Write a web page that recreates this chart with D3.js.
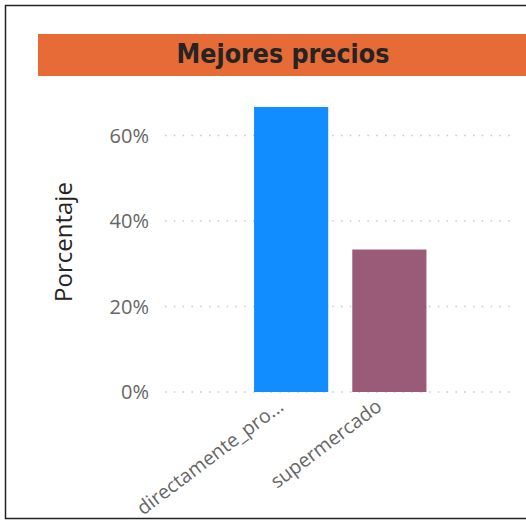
<!DOCTYPE html>
<html><head><meta charset="utf-8">
<script src="https://cdn.jsdelivr.net/npm/d3@7"></script>
<style>html,body{margin:0;padding:0;background:#fff;overflow:hidden}</style>
</head><body>
<svg id="c" width="526" height="521"></svg>
<script>
const categories = ["directamente_productor", "supermercado"];
const categoryLabels = ["directamente_pro...", "supermercado"];
const values = [0.6667, 0.3333];
const colors = ["#118DFF", "#995B78"];
const yTicks = [0, 0.2, 0.4, 0.6];
const title = "Mejores precios";
const yTitle = "Porcentaje";

const svg = d3.select("#c");
// frame
svg.append("rect").attr("x",5.5).attr("y",5.5).attr("width",530).attr("height",513)
  .attr("fill","none").attr("stroke","#222").attr("stroke-width",1.5);
// title banner
svg.append("rect").attr("x",38).attr("y",34).attr("width",500).attr("height",42).attr("fill","#E66B37");
svg.append("text").attr("x",283).attr("y",63).attr("text-anchor","middle")
  .attr("font-family","'DejaVu Sans Condensed','DejaVu Sans',sans-serif").attr("font-stretch","condensed")
  .attr("font-weight","bold").attr("font-size",26.5).attr("fill","#252423").text(title);

const y = d3.scaleLinear().domain([0, 0.2]).range([392, 306.5]);
const x = d3.scaleBand().domain(categories).range([230, 450.5]).paddingInner(0.245).paddingOuter(0.245);

// grid
const gy = svg.append("g");
gy.selectAll("line").data(yTicks).join("line")
  .attr("x1",165).attr("x2",516).attr("y1",d=>y(d)).attr("y2",d=>y(d))
  .attr("stroke","#c8c8c8").attr("stroke-width",1.5).attr("stroke-dasharray","1.5,7.3");
// y tick labels
const yAxis = d3.axisLeft(y).tickValues(yTicks).tickFormat(d3.format(".0%")).tickSize(0).tickPadding(0);
const ya = svg.append("g").attr("transform","translate(149,0)").call(yAxis);
ya.select(".domain").remove();
ya.selectAll("text").attr("font-family","'Open Sans',sans-serif").attr("font-size",20).attr("fill","#666").attr("dy","0.34em");

// bars
svg.append("g").selectAll("rect").data(values).join("rect")
  .attr("x",(d,i)=>x(categories[i])).attr("width",x.bandwidth())
  .attr("y",d=>y(d)).attr("height",d=>y(0)-y(d))
  .attr("fill",(d,i)=>colors[i]);

// x labels
const xAxis = d3.axisBottom(x).tickSize(0).tickPadding(0).tickFormat((d,i)=>categoryLabels[i]);
const xa = svg.append("g").attr("transform","translate(0,398)").call(xAxis);
xa.select(".domain").remove();
xa.selectAll("text").attr("font-family","'Open Sans',sans-serif").attr("font-size",19.5).attr("fill","#666")
  .attr("text-anchor","end").attr("dy","0.75em").attr("dx","-0.2em")
  .attr("transform","translate(-12,-3) rotate(-37)");

// y title
svg.append("text").attr("transform","translate(72,242) rotate(-90)").attr("text-anchor","middle")
  .attr("font-family","'Open Sans',sans-serif").attr("font-size",24).attr("fill","#252423").text(yTitle);
</script>
</body></html>
